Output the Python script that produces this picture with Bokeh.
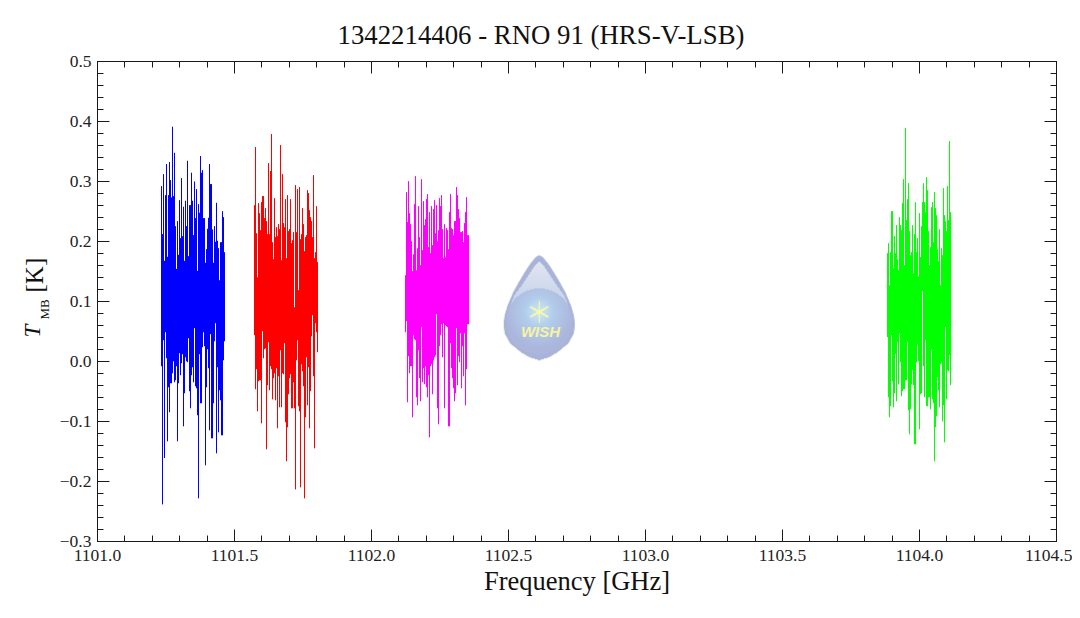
import numpy as np
from bokeh.plotting import figure
from bokeh.models import Range1d, LinearAxis, FixedTicker, Label, Title
from bokeh.embed import file_html
from bokeh.resources import INLINE

title_text = "1342214406 - RNO 91 (HRS-V-LSB)"
x_label = "Frequency [GHz]"
x_ticks = [1101.0, 1101.5, 1102.0, 1102.5, 1103.0, 1103.5, 1104.0, 1104.5]
x_tick_labels = ["1101.0", "1101.5", "1102.0", "1102.5", "1103.0", "1103.5", "1104.0", "1104.5"]
y_ticks = [-0.3, -0.2, -0.1, 0.0, 0.1, 0.2, 0.3, 0.4, 0.5]
y_tick_labels = ["\u22120.3", "\u22120.2", "\u22120.1", "0.0", "0.1", "0.2", "0.3", "0.4", "0.5"]

channel_ghz = 0.0036496
blue_start = 1101.2336
red_start = 1101.5730
magenta_start = 1102.1241
green_start = 1103.8832

blue_high = [.2923,.2123,.3123,.1678,.2773,.3290,.1745,.2773,.3324,.3023,
             .2734,.3913,.2757,.3479,.2256,.1544,.2340,.1778,.2690,.2056,
             .3057,.2089,.2579,.1678,.2679,.2256,.3346,.1756,.2606,.2606,
             .3146,.2679,.2106,.3000,.2390,.2873,.1511,.2623,.2479,.3424,
             .3146,.3190,.2390,.2390,.1645,.1873,.2212,.2395,.3290,.2957,
             .2957,.2201,.1645,.2256,.1995,.2645,.2012,.1889,.1355,.1989,
             .1989,.2506,.2406,.1822]
blue_low = [-.0079,-.2381,.0355,-.1608,.0488,.0054,-.1330,-.0429,-.0846,-.0363,
            -.0363,-.0196,.0004,-.0346,-.0313,-.0079,-.1330,-.0363,.0138,-.0229,
            -.0029,.0121,-.1080,-.0529,.0071,.0004,-.0012,.0388,-.0496,-.0780,
            -.0229,-.0096,-.0346,.0555,-.0413,-.0446,-.0896,-.2281,.0121,-.0696,
            -.0696,.0238,.0488,.0255,-.1730,-.0429,.0204,-.0112,-.1147,.0455,
            -.1280,-.1280,-.0696,.0338,.0638,-.1530,-.0096,-.1180,-.0479,-.0646,
            -.1230,-.1230,.0021,.0338]
red_high = [.2606,.3574,.2139,.1405,.2640,.2473,.2189,.2656,.2757,.2757,
            .2390,.2556,.2340,.2123,.3307,.2123,.3174,.3791,.1989,.1706,
            .2723,.2073,.2239,.2089,.2290,.2206,.3607,.1689,.3123,.2306,
            .2239,.2706,.1722,.2773,.2173,.2206,.2706,.1973,.2023,.2156,
            .0905,.2940,.2156,.2873,.1189,.2907,.2039,.2123,.2556,.2290,
            .1839,.2073,.2106,.2857,.2807,.2523,.2406,.2340,.2073,.3107,
            .1722,.1822,.2590,.1656]
red_low = [.0438,-.0463,-.0129,-.0830,-.0329,-.0313,-.0313,-.1030,.0505,.0054,
           .0204,.0221,-.1464,-.0396,.0321,-.0479,-.0079,-.0129,-.0630,-.0279,
           -.0196,-.0646,-.0112,-.1113,-.0246,-.0763,.0188,-.0763,-.0196,-.0213,
           .0305,-.1013,-.1664,-.1097,-.0546,-.0279,-.0213,-.0780,-.0780,-.0346,
           -.0780,-.2131,.0021,.0355,-.0746,-.0830,-.2097,-.0046,-.0163,-.0413,
           -.2281,-.0930,.0071,-.0730,-.0096,-.1113,-.0496,.0421,.0772,-.0246,
           -.1447,.0638,.0488,.0155]
magenta_high = [.1439,.2823,.2323,.3007,.2473,.2289,.2006,.1506,.1789,.2623,
                .3090,.1522,.1889,.2590,.2073,.1606,.3040,.1856,.2673,.2273,
                .2373,.2706,.2790,.1906,.2490,.1806,.2590,.1939,.2540,.2690,
                .2139,.2606,.2006,.2189,.2723,.2590,.2773,.2206,.1722,.2289,
                .1739,.2223,.2189,.1872,.2490,.2790,.2223,.2206,.2106,.2340,
                .2340,.2907,.2773,.2540,.2390,.2156,.2156,.2173,.1989,.2306,
                .2490,.2740,.2106,.2106]
magenta_low = [.0488,.0672,-.0680,.0088,-.0196,-.0079,-.0079,-.0930,.0438,.0371,
               .0355,-.0596,-.0730,.0188,-.0279,-.0663,.0571,-.0346,-.0113,-.0379,
               -.0079,-.0429,-.0596,-.0229,-.1263,-.0079,-.0046,-.0546,.0021,.0071,
               .0104,.0788,-.0780,-.1047,.0254,.0438,.0622,.0071,.0638,-.0780,
               .0605,.0588,.0571,-.1080,-.1080,.0305,-.0113,-.0279,-.0446,-.0663,
               -.0530,.0555,-.0396,.0088,-.0012,.0471,-.0446,.0254,-.0246,.0471,
               -.0730,-.0129,.0622,.0622]
green_high = [.1806,.1972,.1272,.1822,.2506,.2506,.1555,.2089,.1806,.2273,
              .1705,.1522,.2406,.2273,.2189,.2640,.3040,.1605,.3891,.2356,
              .2706,.2973,.2173,.1772,.1822,.2273,.1472,.2122,.2656,.1822,
              .2056,.1422,.2473,.1739,.2256,.2656,.2973,.2656,.2489,.3073,
              .2856,.2173,.1605,.1906,.2573,.2656,.1989,.2823,.2556,.2439,
              .1872,.1672,.2206,.1272,.1889,.1772,.2890,.2439,.2339,.2173,
              .2923,.2356,.3674,.2489]
green_low = [.0404,-.0596,-.0930,-.0746,.0438,-.0329,-.0763,-.0530,.0121,-.0663,
             .0321,-.0380,.0471,-.0013,-.0580,-.0496,-.0463,-.0463,-.0313,-.0313,
             .0321,-.0813,-.1213,-.0797,-.0380,-.0146,-.0396,-.1380,-.1380,-.0013,
             .0288,.0004,-.1130,-.0546,-.0530,.1172,-.0079,-.0596,.0354,-.0746,
             -.0746,-.0596,-.0596,-.0797,.0204,-.0630,-.0696,-.1664,-.1097,-.0913,
             -.0263,-.0480,-.0763,-.0046,-.0013,-.0997,-.0730,-.1347,.0571,-.0630,
             -.0146,-.0163,.0104,-.0396]

bands = [(blue_start, blue_high, blue_low, "#0000ff"),
         (red_start, red_high, red_low, "#ff0000"),
         (magenta_start, magenta_high, magenta_low, "#ff00ff"),
         (green_start, green_high, green_low, "#00ff00")]

AXIS = "#1a1a1a"
SERIF = "Liberation Serif"

p = figure(width=1072, height=610, output_backend="svg", toolbar_location=None,
           x_range=Range1d(1101.0, 1104.5), y_range=Range1d(-0.3, 0.5),
           x_axis_location=None, y_axis_location=None,
           min_border_left=97, min_border_right=16, min_border_top=61, min_border_bottom=69)
p.grid.visible = False
p.outline_line_color = AXIS
p.outline_line_width = 1
p.background_fill_color = "white"
p.border_fill_color = "white"

x_minor = [round(1101.0 + 0.1 * i, 1) for i in range(36)]
y_minor = [round(-0.3 + 0.02 * i, 2) for i in range(41)]
x_ticker = FixedTicker(ticks=x_ticks, minor_ticks=x_minor)
y_ticker = FixedTicker(ticks=y_ticks, minor_ticks=y_minor)


def style(ax, labelled, overrides, standoff=6):
    ax.axis_line_color = AXIS
    ax.major_tick_line_color = AXIS
    ax.minor_tick_line_color = AXIS
    ax.major_tick_in = 12
    ax.major_tick_out = 0
    ax.minor_tick_in = 6
    ax.minor_tick_out = 0
    if labelled:
        ax.major_label_overrides = overrides
        ax.major_label_text_font = SERIF
        ax.major_label_text_font_size = "17.5px"
        ax.major_label_text_color = "#222222"
        ax.major_label_standoff = standoff
    else:
        ax.major_label_overrides = {k: "" for k in overrides}
        ax.major_label_text_font_size = "1px"
        ax.major_label_standoff = 0


x_over = dict(zip(x_ticks, x_tick_labels))
y_over = dict(zip(y_ticks, y_tick_labels))

below = LinearAxis(ticker=x_ticker, axis_label=x_label)
style(below, True, x_over, standoff=8)
below.axis_label_text_font = SERIF
below.axis_label_text_font_style = "normal"
below.axis_label_text_font_size = "26.5px"
below.axis_label_text_color = "#111111"
below.axis_label_standoff = 2
p.add_layout(below, "below")
left = LinearAxis(ticker=y_ticker)
style(left, True, y_over)
p.add_layout(left, "left")
top = LinearAxis(ticker=x_ticker)
style(top, False, x_over)
p.add_layout(top, "above")
right = LinearAxis(ticker=y_ticker)
style(right, False, y_over)
p.add_layout(right, "right")

# WISH droplet logo (decoration), painted into an RGBA raster
SS = 3
LW, LH = 73, 106
yy, xx = np.mgrid[0:LH * SS, 0:LW * SS]
u = (xx + 0.5) / SS
w = (yy + 0.5) / SS
cx = 36.5
half = np.interp(w, [0, 1, 3, 6, 10, 17, 27, 37, 50, 60, 69, 78, 88, 97, 102, 105],
                 [0, 3, 5, 7.5, 10.5, 15, 21, 26.5, 32, 35, 36, 35, 29.5, 18.5, 10, 0])
edge = half - np.abs(u - cx)
rgb = np.zeros((LH * SS, LW * SS, 3))
rgb[...] = (168, 180, 215)

inner_half = np.interp(w, [6, 10, 20, 32, 40, 50], [0, 4, 11, 19, 25, 29])
upper = (np.abs(u - cx) < inner_half) & (w < 50)
t = np.clip((w - 6) / 34, 0, 1)[..., None]
upper_col = (1 - t) * np.array([226, 230, 241]) + t * np.array([203, 215, 236])
rgb = np.where(upper[..., None], upper_col, rgb)

glow_r = np.hypot(u - cx, (w - 57) * 0.95)
disc = np.hypot(u - cx, w - 66) < 33
mix = np.clip(glow_r / 34, 0, 1)[..., None]
disc_col = (1 - mix) * np.array([184, 222, 248]) + mix * np.array([172, 182, 220])
rgb = np.where(disc[..., None], disc_col, rgb)

# star with soft glow
sx, sy = u - 36.5, w - 56.5
rad = np.hypot(sx, sy)
theta = np.arctan2(sy, sx) - np.pi / 2
star_r = 2.6 + 9.0 * np.abs(np.cos(3 * theta)) ** 8
star = np.clip((star_r - rad) / 1.0, 0, 1)[..., None]
halo = np.clip(1 - rad / 14, 0, 1)[..., None] * 0.5
rgb = rgb * (1 - halo) + np.array([225, 240, 235]) * halo
rgb = rgb * (1 - star) + np.array([255, 252, 160]) * star

alpha = np.clip(edge * 1.5, 0, 1) * (w < LH - 0.5)
rgba = np.dstack([np.clip(rgb, 0, 255), alpha * 255]).astype(np.uint8)
rgba = rgba[::-1]
img = rgba[..., 0].astype(np.uint32) | (rgba[..., 1].astype(np.uint32) << 8) | \
      (rgba[..., 2].astype(np.uint32) << 16) | (rgba[..., 3].astype(np.uint32) << 24)
p.image_rgba(image=[img], x=1102.4790, y=0.0002, dw=LW / 274, dh=LH * 0.8 / 480)

for start, high, low, colour in bands:
    freq = [start + i * channel_ghz for i in range(len(high))]
    p.segment(x0=freq, y0=low, x1=freq, y1=high, line_color=colour, line_width=1.0)

FRAME_X, FRAME_Y = 97, 541

# main title sits in the 'above' panel, its left edge set by the offset from the frame
p.add_layout(Title(text=title_text, align="left", offset=337 - FRAME_X, standoff=24,
                   text_font=SERIF, text_font_size="26.8px", text_font_style="normal",
                   text_color="#111111"), "above")
p.add_layout(Label(x=540 - FRAME_X, y=FRAME_Y - 331, x_units="screen", y_units="screen", text="WISH",
                   text_font="Liberation Sans", text_font_size="15px", text_font_style="bold italic",
                   text_color="#f7f3a0", text_align="center", text_baseline="middle"))


# the three pieces of the y-axis title stack in the left panel; standoffs bring them to one column
def side_text(text, py, size, standoff, font_style="normal"):
    p.add_layout(Title(text=text, align="left", offset=FRAME_Y - py, standoff=standoff,
                       text_font=SERIF, text_font_size=size, text_font_style=font_style,
                       text_color="#111111"), "left")


side_text("MB", 319, "13px", 8.4)
side_text("T", 337, "23px", -27.4, "italic")
side_text("[K]", 292, "25px", -32)

open("out.html", "w").write(file_html(p, INLINE))
